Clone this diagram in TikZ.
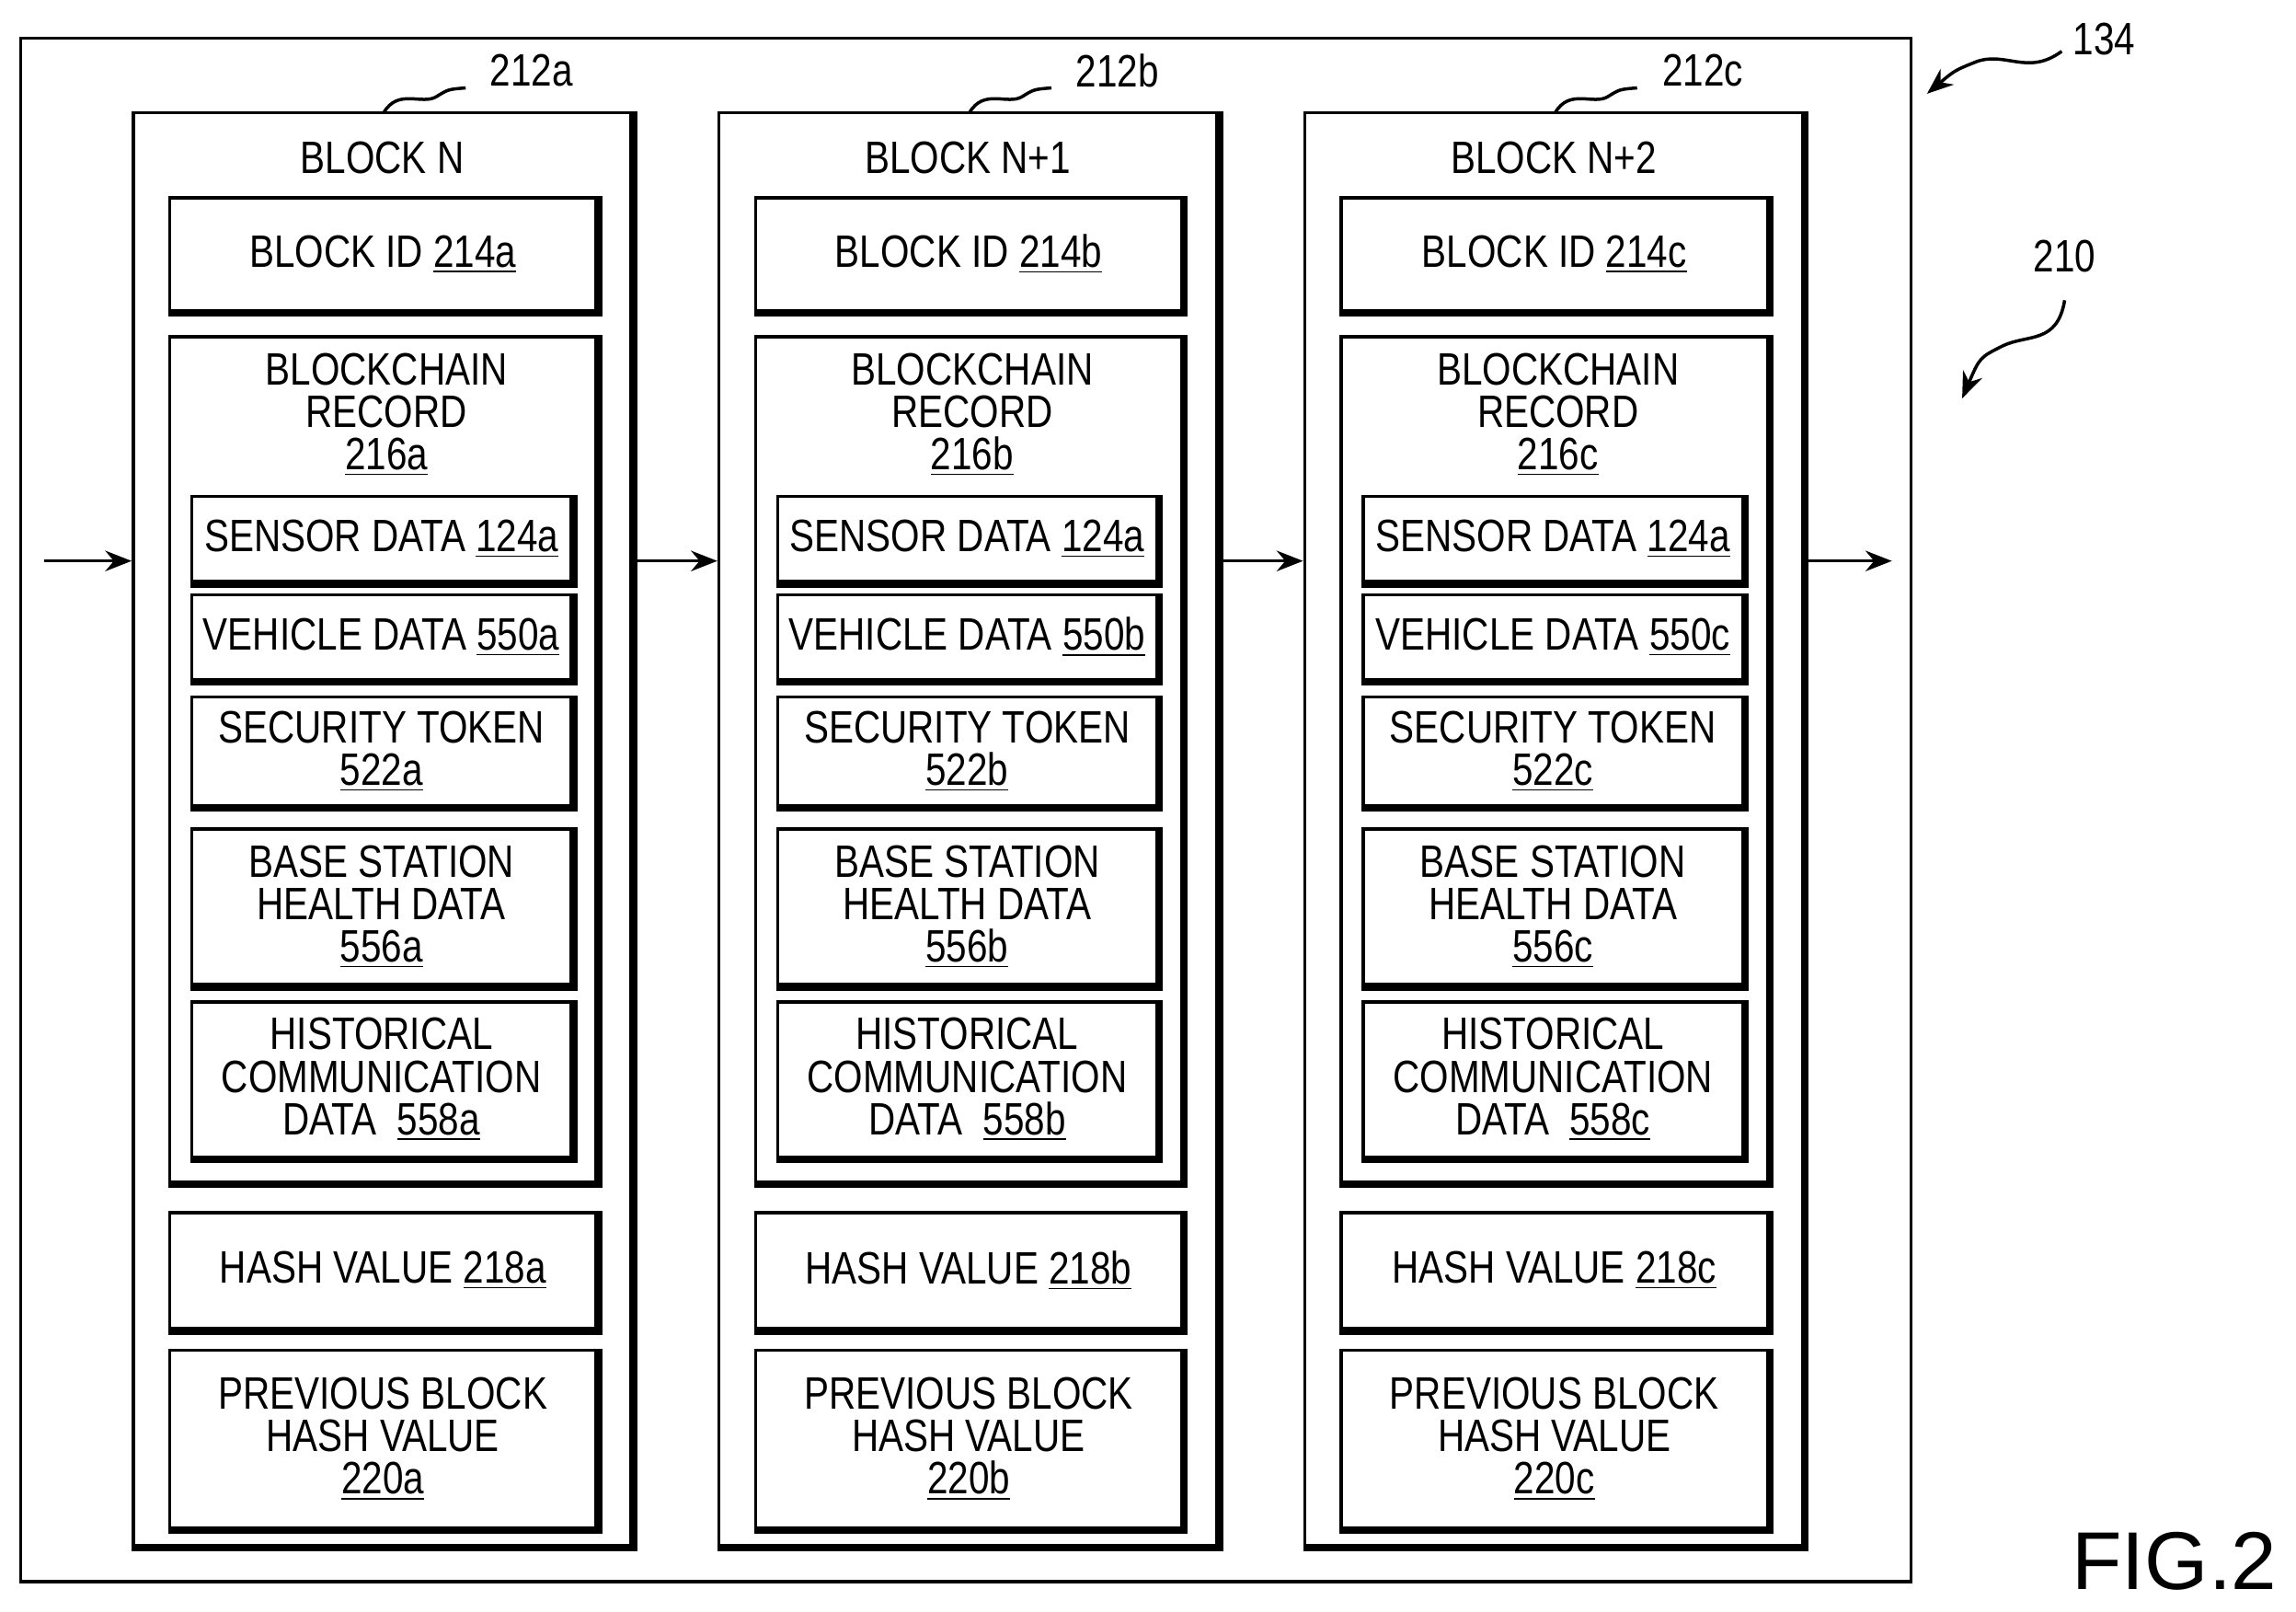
\documentclass[tikz,border=0pt]{standalone}
\usepackage{fontspec}
\setmainfont{Liberation Sans}[FakeStretch=0.82]
\newfontfamily\figfont{Liberation Sans}
\usetikzlibrary{arrows.meta}
\newcommand{\bx}[6]{%
  \node[bxs,minimum width={((#4)-(#2))*0.5pt},minimum height={((#5)-(#3))*0.5pt}] (#1) at ({((#2)+(#4))/2},{((#3)+(#5))/2}) {#6};
  \draw[line width=2.2pt] ([xshift=0.5pt]#1.north east)--([xshift=0.5pt,yshift=-0.5pt]#1.south east)--([yshift=-0.5pt]#1.south west);}
\begin{document}
\begin{tikzpicture}[x=0.5pt,y=-0.5pt,
  bxs/.style={draw,line width=1.1pt,inner sep=0pt,align=center,font=\fontsize{15.5}{14.5}\selectfont},
  lbl/.style={inner sep=0pt,align=center,font=\fontsize{15.5}{14.5}\selectfont},
  arr/.style={line width=1.1pt,-{Stealth[length=9pt,width=7pt]}}]
\useasboundingbox (0,0) rectangle (1568,1100);
\draw[line width=1.1pt] (14,26) rectangle (1305,1080);
\foreach \o/\s/\t in {0/a/N, 400/b/N+1, 800/c/N+2}{
  \bx{blk\s}{91+\o}{77}{431+\o}{1055}{}
  \node[lbl] (ttl\s) at (261+\o,108) {BLOCK \t};
  \bx{id\s}{116+\o}{135}{407+\o}{212}{BLOCK ID \underline{214\s}}
  \bx{rec\s}{116+\o}{230}{407+\o}{807}{}
  \node[lbl] (rt\s) at (264+\o,283) {BLOCKCHAIN\\RECORD\\\underline{216\s}};
  \bx{sen\s}{131+\o}{339}{390+\o}{397}{SENSOR DATA \underline{124a}}
  \bx{veh\s}{131+\o}{406}{390+\o}{464}{VEHICLE DATA \underline{550\s}}
  \bx{sec\s}{131+\o}{476}{390+\o}{550}{SECURITY TOKEN\\\underline{522\s}}
  \bx{bas\s}{131+\o}{566}{390+\o}{672}{BASE STATION\\HEALTH DATA\\\underline{556\s}}
  \bx{his\s}{131+\o}{684}{390+\o}{790}{HISTORICAL\\COMMUNICATION\\DATA\ \ \underline{558\s}}
  \bx{hash\s}{116+\o}{828}{407+\o}{907}{HASH VALUE \underline{218\s}}
  \bx{prev\s}{116+\o}{922}{407+\o}{1043}{PREVIOUS BLOCK\\HASH VALUE\\\underline{220\s}}
  \node[lbl] (n\s) at (363+\o,48) {212\s};
  \coordinate (sq1\s) at (262+\o,77);
  \coordinate (sq2\s) at (318+\o,60);
  \draw[line width=1.1pt] (sq1\s) .. controls (272+\o,60) and (288+\o,72) .. (298+\o,66) .. controls (306+\o,61) .. (sq2\s);
}
\coordinate (in) at (30,383);
\coordinate (out) at (1292,383);
\draw[arr] (in) -- (blka.west|-in);
\draw[arr] (blka.east|-in) -- (blkb.west|-in);
\draw[arr] (blkb.east|-in) -- (blkc.west|-in);
\draw[arr] (blkc.east|-in) -- (out);
\node[lbl] (l134) at (1437,27) {134};
\coordinate (a1) at (1408,35);
\coordinate (a2) at (1316,64);
\draw[arr] (a1) .. controls (1385,52) and (1370,35) .. (1350,42) .. controls (1335,48) .. (a2);
\node[lbl] (l210) at (1410,175) {210};
\coordinate (b1) at (1410,205);
\coordinate (b2) at (1340,272);
\draw[arr] (b1) .. controls (1405,235) and (1385,228) .. (1368,236) .. controls (1352,244) .. (b2);
\node[inner sep=0pt,font=\figfont\fontsize{28}{28}\selectfont] (fig) at (1485,1066) {FIG.2};
\end{tikzpicture}
\end{document}
